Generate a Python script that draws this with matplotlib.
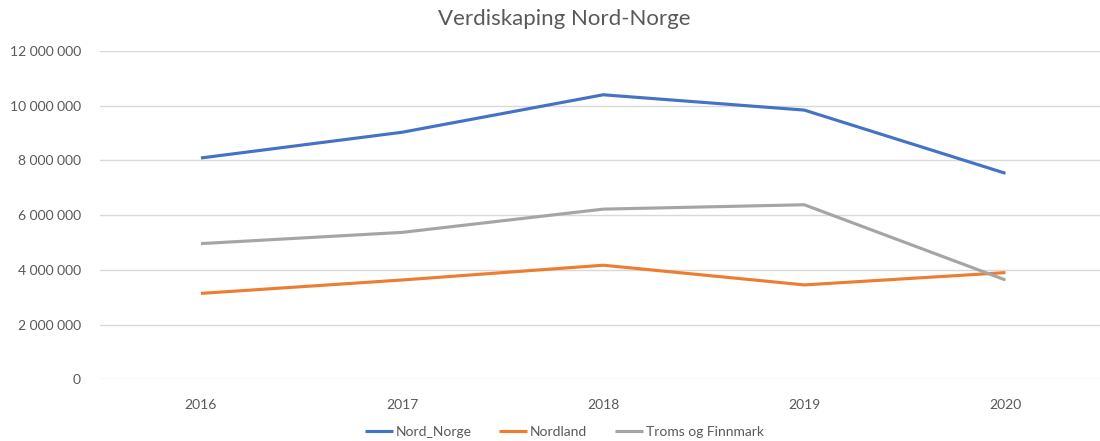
import matplotlib.pyplot as plt
from matplotlib.ticker import FuncFormatter

# Data
years = ["2016", "2017", "2018", "2019", "2020"]
nord_norge = [8090000, 9030000, 10400000, 9840000, 7530000]
nordland = [3140000, 3630000, 4170000, 3450000, 3900000]
troms_finnmark = [4960000, 5370000, 6220000, 6380000, 3630000]

series_names = ["Nord_Norge", "Nordland", "Troms og Finnmark"]
colors = ["#4472C4", "#ED7D31", "#A5A5A5"]

plt.rcParams['font.family'] = ['Lato', 'DejaVu Sans']
text_col = "#595959"

fig = plt.figure(figsize=(11, 4.41), dpi=100)
ax = fig.add_axes([100.4 / 1100, 61.7 / 441, 1 - 100.4 / 1100, (379.3 - 51) / 441])

x = list(range(len(years)))
for vals, name, c in zip([nord_norge, nordland, troms_finnmark], series_names, colors):
    ax.plot(x, vals, color=c, lw=2.25, label=name, solid_capstyle='butt')

ax.set_xlim(-0.5, 4.47)
ax.set_ylim(0, 12000000)
ax.set_yticks(range(0, 12000001, 2000000))
ax.yaxis.set_major_formatter(FuncFormatter(lambda v, p: f"{int(v):,}".replace(",", " ")))
ax.set_xticks(x)
ax.set_xticklabels(years)

ax.grid(axis='y', color="#D9D9D9", lw=1)
ax.set_axisbelow(True)
for s in ax.spines.values():
    s.set_visible(False)
ax.tick_params(axis='both', length=0, colors=text_col, labelsize=10)
ax.tick_params(axis='y', pad=14)
ax.tick_params(axis='x', pad=14)

fig.text(0.513, 0.957, "Verdiskaping Nord-Norge", ha='center', va='center',
         fontsize=16, color=text_col)

fig.legend(loc='center', bbox_to_anchor=(0.513, 0.02), ncol=3, frameon=False,
           fontsize=10, labelcolor=text_col, handlelength=2.0, handletextpad=0.2,
           columnspacing=2.0)

fig.savefig("out.png", dpi=100)
